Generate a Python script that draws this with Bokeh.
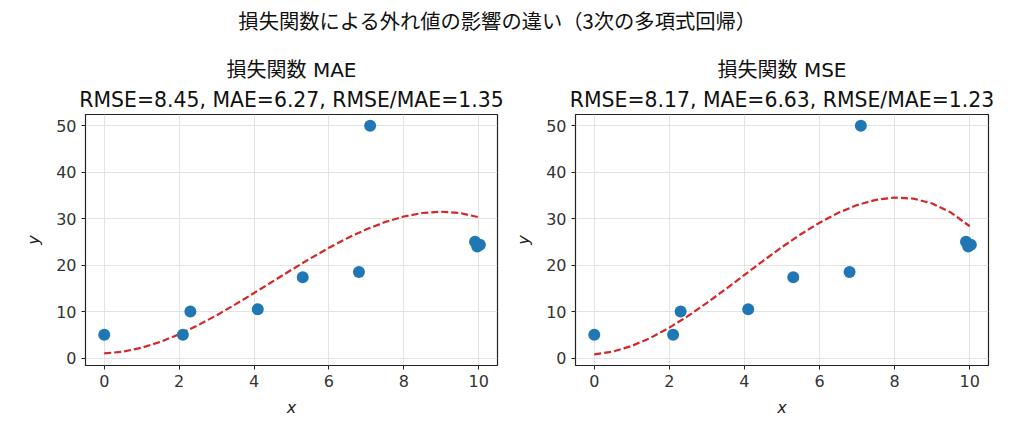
from bokeh.plotting import figure
from bokeh.layouts import column, row
from bokeh.models import Label, Title, FixedTicker, Range1d
from bokeh.embed import file_html
from bokeh.resources import INLINE

# ---- data ----
x_pts = [0.0, 2.1, 2.3, 4.1, 5.3, 6.8, 7.1, 9.9, 9.96, 10.03]
y_pts = [5.0, 5.0, 10.0, 10.5, 17.4, 18.5, 50.0, 25.0, 24.0, 24.4]

curve_x = [0.0, 0.5, 1.0, 1.5, 2.0, 2.5, 3.0, 3.5, 4.0, 4.5, 5.0,
           5.5, 6.0, 6.5, 7.0, 7.5, 8.0, 8.5, 9.0, 9.5, 10.0]
mae_curve_y = [1.0, 1.37, 2.23, 3.50, 5.12, 7.05, 9.20, 11.54, 13.99, 16.49, 18.99,
               21.42, 23.72, 25.84, 27.70, 29.26, 30.45, 31.21, 31.48, 31.20, 30.3]
mse_curve_y = [0.8, 1.39, 2.61, 4.35, 6.54, 9.07, 11.87, 14.84, 17.89, 20.93, 23.88,
               26.64, 29.12, 31.25, 32.91, 34.04, 34.53, 34.30, 33.25, 31.31, 28.36]

suptitle = "損失関数による外れ値の影響の違い（3次の多項式回帰）"
panel_titles = ["損失関数 MAE", "損失関数 MSE"]
panel_metrics = ["RMSE=8.45, MAE=6.27, RMSE/MAE=1.35",
                 "RMSE=8.17, MAE=6.63, RMSE/MAE=1.23"]
x_ticks = [0, 2, 4, 6, 8, 10]
y_ticks = [0, 10, 20, 30, 40, 50]

FONT = "DejaVu Sans, Noto Sans CJK JP"
CJK = "Noto Sans CJK JP"
POINT_COLOR = "#1f77b4"
LINE_COLOR = "#d62728"

# ---- suptitle strip ----
top = figure(width=1005, height=48, toolbar_location=None, output_backend="svg",
             x_range=Range1d(0, 1005), y_range=Range1d(0, 48),
             min_border=0, outline_line_color=None)
top.axis.visible = False
top.grid.visible = False
top.add_layout(Label(x=497, y=29, text=suptitle, text_align="center",
                     text_baseline="middle", text_font=CJK,
                     text_font_size="20.3px", text_color="#111111"))


def make_panel(curve_y, ttl, metrics, width, border_left, border_right):
    p = figure(width=width, height=371, toolbar_location=None, output_backend="svg",
               x_range=Range1d(-0.5, 10.5), y_range=Range1d(-1.6, 52.4),
               min_border_left=border_left, min_border_right=border_right,
               min_border_top=66, min_border_bottom=54)
    # outer line
    p.title = Title(text=ttl, align="center",
                    text_font=FONT, text_font_size="20px",
                    text_font_style="normal", text_color="#111111",
                    standoff=2)
    # inner line (closest to the frame)
    p.add_layout(Title(text=metrics, align="center",
                       text_font=FONT, text_font_size="20.4px",
                       text_font_style="normal", text_color="#111111",
                       standoff=6), "above")
    p.outline_line_color = "#222222"
    p.outline_line_width = 1.2
    p.outline_line_alpha = 1.0

    p.xaxis.ticker = FixedTicker(ticks=x_ticks)
    p.yaxis.ticker = FixedTicker(ticks=y_ticks)
    for ax in (p.xaxis[0], p.yaxis[0]):
        ax.axis_line_color = None
        ax.minor_tick_line_color = None
        ax.major_tick_out = 4
        ax.major_tick_in = 0
        ax.major_tick_line_color = "#222222"
        ax.major_label_text_font = "DejaVu Sans"
        ax.major_label_text_font_size = "16px"
        ax.major_label_text_color = "#333333"
        ax.axis_label_text_font = "DejaVu Sans"
        ax.axis_label_text_font_size = "16px"
        ax.axis_label_text_font_style = "italic"
        ax.axis_label_text_color = "#222222"
    p.xaxis.axis_label = "x"
    p.yaxis.axis_label = "y"
    p.xaxis.axis_label_standoff = 8
    p.yaxis.axis_label_standoff = 10

    p.grid.grid_line_color = "#e3e3e3"
    p.grid.grid_line_alpha = 1.0
    p.grid.grid_line_width = 1

    p.line(curve_x, curve_y, line_color=LINE_COLOR, line_width=2.2, line_dash="7 3")
    p.scatter(x_pts, y_pts, size=12, fill_color=POINT_COLOR, line_color=None)
    return p


p1 = make_panel(mae_curve_y, panel_titles[0], panel_metrics[0], 507, 85, 10)
p2 = make_panel(mse_curve_y, panel_titles[1], panel_metrics[1], 498, 68, 17)

layout = column(top, row(p1, p2))
open("out.html", "w").write(file_html(layout, INLINE))
